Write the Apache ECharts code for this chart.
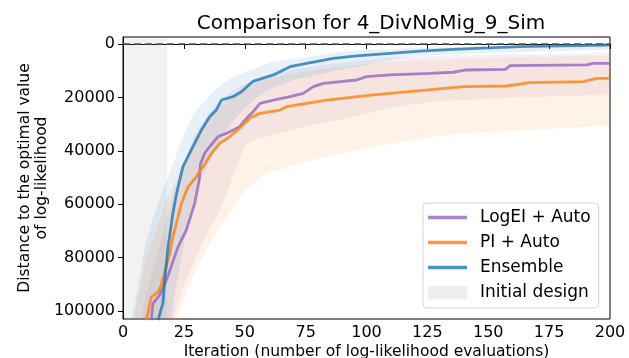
<!DOCTYPE html>
<html>
<head>
<meta charset="utf-8">
<script src="https://cdn.jsdelivr.net/npm/echarts@6/dist/echarts.min.js"></script>
<style>
  html, body { margin: 0; padding: 0; background: #fff; }
  #chart { width: 629px; height: 358px; }
</style>
</head>
<body>
<div id="chart"></div>
<script>
// mean curves (distance to optimum, per iteration)
const ensX = [14.4,16.4,17.1,18.5,20.5,22,23.3,24.6,28,32.2,35.6,38.3,40.4,45.2,48.6,53.4,61.7,68.6,75.4,86.4,96,109.7,122,135.6,150,163,180,200];
const ensY = [103500,97000,88500,76000,63400,56000,51000,46000,39750,32250,27250,24750,21000,19750,17900,14000,11600,8500,7250,5400,4500,3500,2700,2000,1500,1000,700,400];

const logeiX = [11.6,12.3,15.1,17.8,22.6,26,29.4,31.3,31.8,33.5,35.6,39,42.4,47.9,51.3,53.4,56.3,61.7,68.6,74,78.2,82.3,96,100,109.7,126,135.6,141,157,159,190.4,193,200];
const logeiY = [103500,97250,94000,88500,76000,69750,59750,51000,45000,41000,38500,34750,33500,31000,27250,25400,22250,21000,19750,18500,16000,14750,13500,12250,11600,11000,10600,9750,9500,8100,7875,7250,7250];

const piX = [9.6,11.6,14.4,15.7,19.2,20.5,24,26.7,30.1,31.7,32.9,36.3,39.7,43.8,47.9,52.5,56.3,64.5,67.2,83.6,102.8,122,139.8,157.6,167,189,194.5,200];
const piY = [103500,94750,92900,90400,78500,72250,59750,53500,49750,47250,46000,41000,37250,34750,31500,27500,26000,24750,23500,21000,19100,17500,16000,15750,14500,14100,12900,12900];

// uncertainty bands on a shared x grid
const bandX = [3,6,9,12,15,18,21,24,27,30,35,40,45,50,55,60,70,80,90,100,110,120,130,140,150,160,170,180,190,200];
const ensLow = [105000,92000,76000,66000,58000,51000,44000,36000,30000,25000,20000,15500,12500,10500,9000,7000,5500,4200,2900,2300,1900,1500,1200,1000,800,600,500,400,300,200];
const ensHigh = [200000,200000,180000,160000,140000,115000,95000,80000,65000,55000,45000,36000,29000,24000,20000,17000,13500,11500,9500,8000,6000,4500,4000,3700,3400,3100,2800,2600,2400,2200];
const logeiLow = [130000,110000,95000,85000,75000,65000,55000,47000,40000,33000,26000,21000,17500,15000,13000,11500,9500,8000,7000,6000,5200,4700,4400,4200,4000,3900,3800,3700,3600,3500];
const logeiHigh = [200000,200000,180000,150000,130000,115000,102000,93000,86000,80000,70000,62000,50000,38000,35500,34500,32000,30000,28300,26000,24000,22500,21500,21000,20500,20000,19800,19500,19200,19000];
const piLow = [110000,95000,82000,74000,66000,58000,52000,46000,40000,34000,28000,23000,19000,16500,14500,13000,11000,9500,8500,7500,6800,6200,5800,5500,5200,5000,4800,4600,4400,4300];
const piHigh = [200000,200000,180000,160000,140000,120000,105000,98000,91000,85000,76000,68000,62000,55000,51000,48000,45500,43000,41000,39000,37500,36000,34500,33500,33000,32500,32000,31500,31000,30500];

const initEnd = 18;
const yTicks = [0,20000,40000,60000,80000,100000];

const FONT = 'DejaVu Sans';
const pairs = (xs, ys) => xs.map((x, i) => [x, ys[i]]);

// filled band between low and high, drawn as one polygon through the axis scales
function band(name, low, high, color) {
  return {
    name: name, type: 'custom', silent: true, clip: true, z: 1,
    data: bandX.map((x, i) => [x, low[i], high[i]]),
    encode: { x: 0, y: [1, 2] },
    renderItem: function (params, api) {
      if (params.dataIndexInside !== 0) return null;
      const top = bandX.map((x, i) => api.coord([x, low[i]]));
      const bottom = bandX.map((x, i) => api.coord([x, high[i]])).reverse();
      return {
        type: 'polygon',
        shape: { points: top.concat(bottom) },
        style: { fill: color }
      };
    }
  };
}

function curve(name, xs, ys, color) {
  return {
    name: name, type: 'line', symbol: 'none', data: pairs(xs, ys),
    color: color, lineStyle: { width: 2.8, color: color, opacity: 0.8 }, z: 3
  };
}

const lineIcon = 'path://M0,0H39V3.3H0Z';
const chart = echarts.init(document.getElementById('chart'));
chart.setOption({
  animation: false,
  textStyle: { fontFamily: FONT },
  title: {
    text: 'Comparison for 4_DivNoMig_9_Sim',
    left: 366, top: 9, textAlign: 'center',
    textStyle: { fontFamily: FONT, fontSize: 20, fontWeight: 'normal', color: '#000' }
  },
  grid: {
    left: 123, right: 19, top: 37, bottom: 39,
    outerBoundsMode: 'none', containLabel: false,
    show: true, borderColor: '#000', borderWidth: 1, backgroundColor: 'transparent'
  },
  legend: {
    orient: 'vertical', left: 423, top: 203,
    padding: [6, 8, 7, 5], itemGap: 8, itemWidth: 39, itemHeight: 14,
    backgroundColor: 'rgba(255,255,255,0.85)', borderColor: '#d4d4d4', borderWidth: 1, borderRadius: 4,
    textStyle: { fontFamily: FONT, fontSize: 17, lineHeight: 17, color: '#000', padding: [0, 0, 0, 8] },
    data: [
      { name: 'LogEI + Auto', icon: lineIcon, itemStyle: { opacity: 0.8 } },
      { name: 'PI + Auto', icon: lineIcon, itemStyle: { opacity: 0.8 } },
      { name: 'Ensemble', icon: lineIcon, itemStyle: { opacity: 0.8 } },
      { name: 'Initial design', icon: 'path://M0,0H35V12H0Z', itemStyle: { color: '#efefef' } }
    ]
  },
  xAxis: {
    type: 'value', min: 0, max: 200, interval: 25,
    name: 'Iteration (number of log-likelihood evaluations)',
    nameLocation: 'middle', nameGap: 25, nameMoveOverlap: false,
    nameTextStyle: { fontFamily: FONT, fontSize: 15.5, color: '#000' },
    axisLine: { show: true, lineStyle: { color: '#000', width: 1 } },
    axisTick: { show: true, length: 5, lineStyle: { color: '#000' } },
    axisLabel: { fontFamily: FONT, fontSize: 16, color: '#000', margin: 6 },
    splitLine: { show: false }
  },
  yAxis: {
    type: 'value', inverse: true, min: -2600, max: 103000,
    name: 'Distance to the optimal value\nof log-likelihood',
    nameLocation: 'middle', nameGap: 73, nameRotate: 90, nameMoveOverlap: false,
    nameTextStyle: { fontFamily: FONT, fontSize: 15.5, color: '#000', lineHeight: 17, align: 'center' },
    axisLine: { show: true, lineStyle: { color: '#000', width: 1 } },
    axisTick: { show: true, length: 5, customValues: yTicks, lineStyle: { color: '#000' } },
    axisLabel: {
      fontFamily: FONT, fontSize: 16, color: '#000', margin: 8, customValues: yTicks,
      formatter: v => String(v)
    },
    splitLine: { show: false }
  },
  series: [
    {
      name: 'Initial design', type: 'line', data: [], color: '#efefef',
      markArea: {
        silent: true,
        itemStyle: { color: 'rgba(128,128,128,0.1)' },
        data: [[{ xAxis: 0 }, { xAxis: initEnd }]]
      },
      z: 0
    },
    band('logei band', logeiLow, logeiHigh, 'rgba(148,103,189,0.1)'),
    band('pi band', piLow, piHigh, 'rgba(255,127,14,0.1)'),
    band('ens band', ensLow, ensHigh, 'rgba(31,119,180,0.1)'),
    curve('LogEI + Auto', logeiX, logeiY, '#9467bd'),
    curve('PI + Auto', piX, piY, '#ff7f0e'),
    Object.assign(curve('Ensemble', ensX, ensY, '#1f77b4'), {
      markLine: {
        silent: true, symbol: 'none', label: { show: false },
        lineStyle: { color: '#555', type: [7, 4], width: 1.5, opacity: 1 },
        data: [{ yAxis: 0 }]
      }
    })
  ]
});
</script>
</body>
</html>
